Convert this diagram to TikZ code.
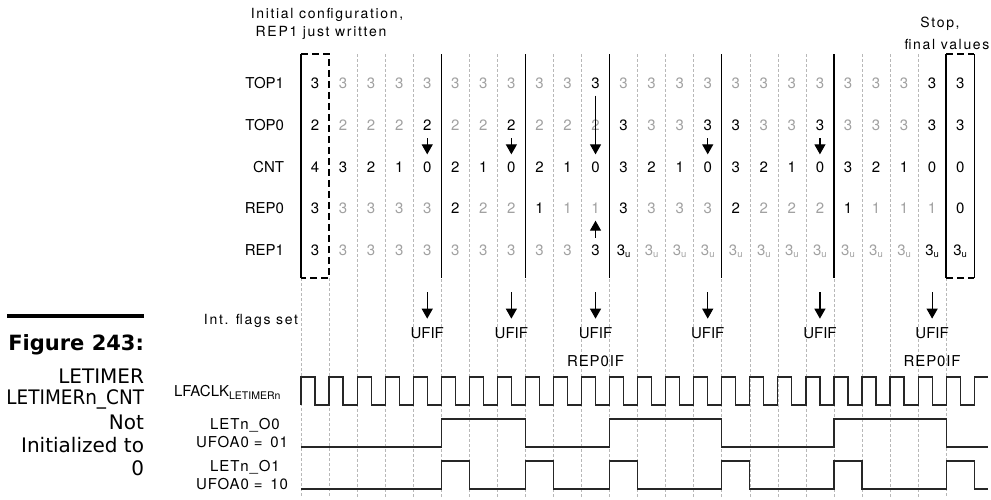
\documentclass[tikz,border=0pt]{standalone}
\usepackage{fontspec}
\setmainfont{TeX Gyre Heros}
\newfontfamily\trk[LetterSpace=12]{TeX Gyre Heros}
\newfontfamily\trkb[LetterSpace=6]{TeX Gyre Heros}
\newfontfamily\figfont{DejaVu Sans}
\usetikzlibrary{arrows.meta}
\definecolor{lt}{gray}{0.63}
\definecolor{gl}{gray}{0.72}
\newcommand\su{\raisebox{-2.5pt}{\fontsize{9.5}{9.5}\selectfont u}}
\begin{document}
\begin{tikzpicture}[x=1pt,y=-1pt,
  every node/.style={inner sep=0pt, outer sep=0pt},
  num/.style={font=\fontsize{15}{17}\selectfont, text height=10.7pt, text depth=0pt},
  blk/.style={text=black},
  dim/.style={text=lt},
  lab/.style={font=\fontsize{15}{17}\selectfont, anchor=east},
  trklab/.style={font=\trk\fontsize{14}{16}\selectfont},
  wlab/.style={font=\trkb\fontsize{15}{17}\selectfont},
  figt/.style={font=\figfont\fontsize{20}{22}\selectfont, anchor=east},
  gridl/.style={draw=gl, line width=0.6pt, dash pattern=on 3pt off 2pt},
  divl/.style={draw=black, line width=1.4pt},
  boxd/.style={draw=black, line width=1.4pt, dash pattern=on 7pt off 4pt},
  arr/.style={draw=black, line width=1.2pt, -{Triangle[length=10pt,width=11pt]}},
  wave/.style={draw=black!85, line width=1.2pt},
]
\useasboundingbox (0,0) rectangle (991,499);

% grid lines
\foreach \k in {2,...,22} \draw[gridl] (301+28.05*\k,54) -- (301+28.05*\k,497);
\foreach \k in {0,1,23} \draw[gridl] (301+28.05*\k,278) -- (301+28.05*\k,497);

% dividers
\foreach \k in {5,8,11,15,19} \draw[divl] (301+28.05*\k,54) -- (301+28.05*\k,278);

% left box
\draw[boxd] (301,54) -- (329.05,54) -- (329.05,278) -- (301,278);
\draw[divl] (301,54) -- (301,278);
% right box
\draw[boxd] (946.15,54) -- (974.2,54);
\draw[boxd] (946.15,278) -- (974.2,278);
\draw[divl] (946.15,54) -- (946.15,278);
\draw[divl] (974.2,54) -- (974.2,278);

% row labels
\node[lab] (lt1) at (284,83.3) {TOP1};
\node[lab] (lt0) at (284,125) {TOP0};
\node[lab] (lcnt) at (284,166.7) {CNT};
\node[lab] (lr0) at (284,208.3) {REP0};
\node[lab] (lr1) at (284,250) {REP1};

% values
\foreach \v/\b [count=\c from 0] in {3/blk,3/dim,3/dim,3/dim,3/dim,3/dim,3/dim,3/dim,3/dim,3/dim,3/blk,3/dim,3/dim,3/dim,3/dim,3/dim,3/dim,3/dim,3/dim,3/dim,3/dim,3/dim,3/blk,3/blk}
  \node[num,\b] (tone-\c) at (315.025+28.05*\c,83.3) {\v};
\foreach \v/\b [count=\c from 0] in {2/blk,2/dim,2/dim,2/dim,2/blk,2/dim,2/dim,2/blk,2/dim,2/dim,2/dim,3/blk,3/dim,3/dim,3/blk,3/blk,3/dim,3/dim,3/blk,3/dim,3/dim,3/dim,3/blk,3/blk}
  \node[num,\b] (tzero-\c) at (315.025+28.05*\c,125) {\v};
\foreach \v [count=\c from 0] in {4,3,2,1,0,2,1,0,2,1,0,3,2,1,0,3,2,1,0,3,2,1,0,0}
  \node[num] (cnt-\c) at (315.025+28.05*\c,166.7) {\v};
\foreach \v/\b [count=\c from 0] in {3/blk,3/dim,3/dim,3/dim,3/dim,2/blk,2/dim,2/dim,1/blk,1/dim,1/dim,3/blk,3/dim,3/dim,3/dim,2/blk,2/dim,2/dim,2/dim,1/blk,1/dim,1/dim,1/dim,0/blk}
  \node[num,\b] (rzero-\c) at (315.025+28.05*\c,208.3) {\v};
\foreach \v/\b [count=\c from 0] in {3/blk,3/dim,3/dim,3/dim,3/dim,3/dim,3/dim,3/dim,3/dim,3/dim,3/blk,3\su/blk,3\su/dim,3\su/dim,3\su/dim,3\su/dim,3\su/dim,3\su/dim,3\su/dim,3\su/dim,3\su/dim,3\su/dim,3\su/blk,3\su/blk}
  \node[num,\b] (rone-\c) at (315.025+28.05*\c,250) {\v};

% reload arrows
\foreach \c in {4,7,14,18}
  \draw[arr, shorten <=8pt, shorten >=7pt] (tzero-\c.south) -- (cnt-\c.north);
\draw[arr, shorten <=7pt, shorten >=7pt] (tone-10.south) -- (cnt-10.north);
\draw[arr, shorten <=7pt, shorten >=7pt] (rone-10.north) -- (rzero-10.south);

% interrupt flags
\node[trklab, anchor=east] (ifs) at (298,321) {Int. flags set};
\foreach \c in {4,7,10,14,18,22} {
  \coordinate (fa\c) at (315.025+28.05*\c,292);
  \node[num] (uf\c) at (315.025+28.05*\c,333) {UFIF};
  \draw[arr, shorten >=9pt] (fa\c) -- (uf\c.north);
}
\node[num, font=\trkb\fontsize{15}{17}\selectfont] (rif10) at (315.025+28.05*10,361) {REP0IF};
\node[num, font=\trkb\fontsize{15}{17}\selectfont] (rif22) at (315.025+28.05*22,361) {REP0IF};

% waveform labels
\node[font=\fontsize{15}{17}\selectfont, anchor=west] (lfa) at (174,392) {LFACLK{\fontsize{10.5}{10.5}\selectfont\raisebox{-3pt}{LETIMERn}}};
\node[wlab] (o0a) at (245,425) {LETn\_O0};
\node[wlab] (o0b) at (242,442) {UFOA0 = \,01};
\node[wlab] (o1a) at (245,467) {LETn\_O1};
\node[wlab] (o1b) at (242,484) {UFOA0 = \,10};

% clock
\draw[wave] (301,405) -- (301,377)
  \foreach \k in {0,...,23} { -- ++(14.025,0) -- ++(0,28) -- ++(14.025,0) -- ++(0,-28) } -- ++(14,0);
% LETn_O0
\draw[wave] (301,447) -- (301+28.05*5,447) -- (301+28.05*5,419) -- (301+28.05*8,419) -- (301+28.05*8,447)
  -- (301+28.05*11,447) -- (301+28.05*11,419) -- (301+28.05*15,419) -- (301+28.05*15,447)
  -- (301+28.05*19,447) -- (301+28.05*19,419) -- (301+28.05*23,419) -- (301+28.05*23,447) -- (988,447);
% LETn_O1
\draw[wave] (301,489)
  \foreach \k in {5,8,11,15,19,23} { -- (301+28.05*\k,489) -- (301+28.05*\k,461) -- (329.05+28.05*\k,461) -- (329.05+28.05*\k,489) }
  -- (988,489);

% top annotations
\node[trklab] (init1) at (327,15) {Initial configuration,};
\node[trklab] (init2) at (321,33) {REP1 just written};
\node[trklab] (stop1) at (940,24) {Stop,};
\node[trklab] (stop2) at (947,44) {final values};

% figure caption
\fill (7,314) rectangle (144,318);
\node[figt, font=\figfont\bfseries\fontsize{21}{23}\selectfont] (fig) at (144,345) {Figure 243:};
\node[figt] (c1) at (144,376) {LETIMER};
\node[figt] (c2) at (144,399) {\scalebox{0.92}[1]{LETIMERn\_CNT}};
\node[figt] (c3) at (144,422) {Not};
\node[figt] (c4) at (144,445) {Initialized to};
\node[figt] (c5) at (144,468) {0};
\end{tikzpicture}
\end{document}
